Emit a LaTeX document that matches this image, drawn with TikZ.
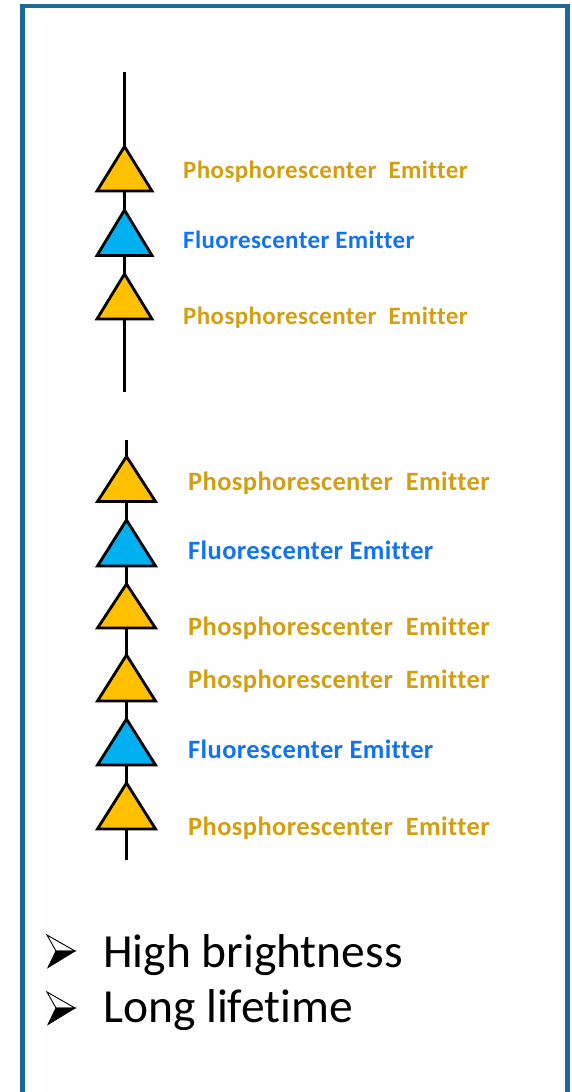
\documentclass[tikz,border=0pt]{standalone}
\usepackage{fontspec}
\setmainfont[Ligatures=NoCommon]{Carlito}
\newfontfamily\labelfont[Ligatures=NoCommon,LetterSpace=1.5]{Carlito}
\definecolor{frameblue}{RGB}{29,106,150}
\definecolor{phosfill}{RGB}{255,192,0}
\definecolor{fluofill}{RGB}{0,176,240}
\definecolor{phostext}{RGB}{210,158,18}
\definecolor{fluotext}{RGB}{18,115,240}
\tikzset{
  chainline/.style={line width=2.6pt,black},
  emtri/.style={line width=2.8pt,line join=miter,black},
  phoslabel/.style={anchor=base west,inner sep=0pt,text=phostext,font=\labelfont\bfseries\fontsize{25}{30}\selectfont},
  fluolabel/.style={anchor=base west,inner sep=0pt,text=fluotext,font=\labelfont\bfseries\fontsize{25}{30}\selectfont},
  phoslabelB/.style={phoslabel,font=\labelfont\bfseries\fontsize{26.5}{32}\selectfont},
  fluolabelB/.style={fluolabel,font=\labelfont\bfseries\fontsize{26.5}{32}\selectfont},
  bullettext/.style={anchor=base west,inner sep=0pt,font=\fontsize{47.5}{57}\selectfont},
  bulletarrow/.style={line width=0.9pt,black,line join=miter}
}
% #1 x center, #2 apex y, #3 base y, #4 half width, #5 fill
\newcommand\emittri[5]{%
  \filldraw[emtri,fill=#5] (#1,#2) -- (#1+#4,#3) -- (#1-#4,#3) -- cycle;}
% #1 x left, #2 y center
\newcommand\arrowbullet[2]{%
  \draw[bulletarrow] (#1,#2-16) -- (#1+28,#2) -- (#1+9,#2) -- cycle;
  \filldraw[bulletarrow] (#1+9,#2) -- (#1+28,#2) -- (#1+1,#2+16.5) -- cycle;}
\begin{document}
\begin{tikzpicture}[x=1pt,y=-1pt]
\useasboundingbox (0,0) rectangle (572,1092);
\draw[frameblue,line width=4.5pt] (22.5,6) rectangle (567.5,1094);

% chain 1
\coordinate (c1top) at (124.5,72);
\coordinate (c1bot) at (124.5,392);
\draw[chainline] (c1top) -- (c1bot);
\emittri{124.5}{146.5}{191}{27.5}{phosfill}
\emittri{124.5}{210}{255.5}{27.5}{fluofill}
\emittri{124.5}{274}{319}{27.5}{phosfill}
\node[phoslabel] (p1) at (183,178.3) {Phosphorescenter\ \ Emitter};
\node[fluolabel] (f1) at (183,248.3) {Fluorescenter Emitter};
\node[phoslabel] (p2) at (183,324.3) {Phosphorescenter\ \ Emitter};

% chain 2
\coordinate (c2top) at (126.5,440);
\coordinate (c2bot) at (126.5,860);
\draw[chainline] (c2top) -- (c2bot);
\emittri{126.5}{456.5}{501.5}{29}{phosfill}
\emittri{126.5}{520}{566}{29}{fluofill}
\emittri{126.5}{584}{628}{29}{phosfill}
\emittri{126.5}{655}{701}{29}{phosfill}
\emittri{126.5}{719}{765}{29}{fluofill}
\emittri{126.5}{783}{829}{29}{phosfill}
\node[phoslabelB] (p3) at (188,490) {Phosphorescenter\ \ Emitter};
\node[fluolabelB] (f2) at (188,559.3) {Fluorescenter Emitter};
\node[phoslabelB] (p4) at (188,635) {Phosphorescenter\ \ Emitter};
\node[phoslabelB] (p5) at (188,688.3) {Phosphorescenter\ \ Emitter};
\node[fluolabelB] (f3) at (188,758.3) {Fluorescenter Emitter};
\node[phoslabelB] (p6) at (188,835) {Phosphorescenter\ \ Emitter};

% bullets
\arrowbullet{47}{951}
\arrowbullet{47}{1008}
\node[bullettext] (b1) at (103,967) {High brightness};
\node[bullettext] (b2) at (103,1022) {Long lifetime};
\end{tikzpicture}
\end{document}
